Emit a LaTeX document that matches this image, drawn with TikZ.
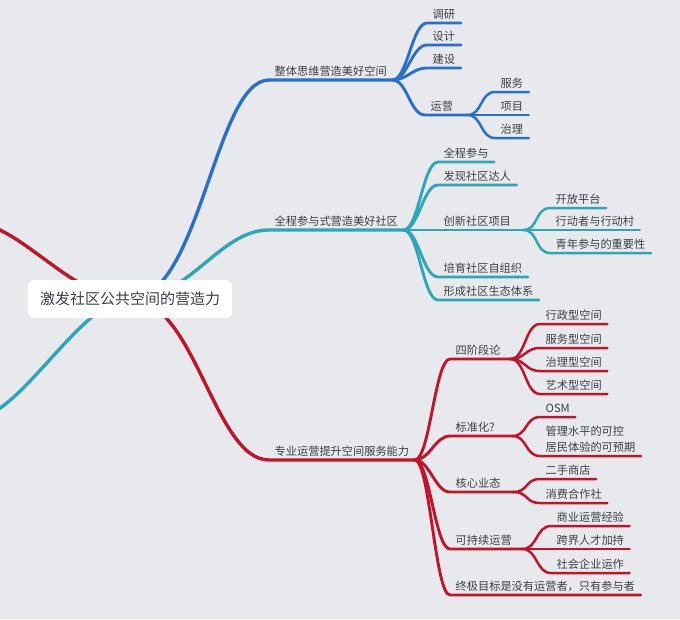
\documentclass[tikz,border=0pt]{standalone}
\usepackage{fontspec}
\setmainfont{Noto Sans CJK SC}
\usetikzlibrary{graphs, backgrounds}

\definecolor{bgcolor}{HTML}{E8E9EC}
\definecolor{bluebranch}{HTML}{2A6FC9}
\definecolor{tealbranch}{HTML}{2FA6B5}
\definecolor{redbranch}{HTML}{C0142B}
\definecolor{textgrey}{HTML}{3A3F46}

\tikzset{
    topic/.style={anchor=south west, inner xsep=5.5pt, inner ysep=2.8pt,
        text height=9pt, text depth=2pt, text=textgrey, align=left,
        font=\fontsize{11.2}{16}\selectfont},
    rootbox/.style={fill=white, rounded corners=6pt, inner sep=0pt,
        minimum width=204pt, minimum height=38pt, text=textgrey,
        font=\fontsize{15}{18}\selectfont},
    branch/.style={line cap=round,
        to path={(\tikztostart.south east) .. controls +(15,0) and +(-15,0)
            .. (\tikztotarget.south west) -- (\tikztotarget.south east)}},
    trunk/.style={line width=3.4pt, line cap=round}
}

\begin{document}
\begin{tikzpicture}[x=1pt, y=-1pt]
    \useasboundingbox (0,0) rectangle (680,619);

    \node[rootbox]              (Root)        at (130,299) {激发社区公共空间的营造力};

    % blue
    \node[topic]                (Whole)       at (269,80)  {整体思维营造美好空间};
    \node[topic]                (Research)    at (427,23)  {调研};
    \node[topic]                (Design)      at (427,45)  {设计};
    \node[topic]                (Build)       at (427,68)  {建设};
    \node[topic, text width=31] (Operate)     at (425,115) {运营};
    \node[topic]                (Service)     at (495,92)  {服务};
    \node[topic]                (Project)     at (495,115) {项目};
    \node[topic]                (Govern)      at (495,138) {治理};

    % teal
    \node[topic]                (Participate) at (269,230) {全程参与式营造美好社区};
    \node[topic]                (Full)        at (438,162) {全程参与};
    \node[topic]                (Talent)      at (438,185) {发现社区达人};
    \node[topic, text width=74] (Innovate)    at (438,230) {创新社区项目};
    \node[topic]                (Open)        at (550,208) {开放平台};
    \node[topic]                (Actor)       at (550,230) {行动者与行动村};
    \node[topic]                (Youth)       at (550,253) {青年参与的重要性};
    \node[topic]                (Selforg)     at (438,277) {培育社区自组织};
    \node[topic]                (Ecosystem)   at (438,300) {形成社区生态体系};

    % red
    \node[topic]                (Professional) at (269,460) {专业运营提升空间服务能力};
    \node[topic, text width=49] (Four)        at (450,359) {四阶段论};
    \node[topic]                (Admintype)   at (540,324) {行政型空间};
    \node[topic]                (Servetype)   at (540,348) {服务型空间};
    \node[topic]                (Governtype)  at (540,371) {治理型空间};
    \node[topic]                (Arttype)     at (540,394) {艺术型空间};
    \node[topic, text width=51] (Standard)    at (450,436) {标准化?};
    \node[topic]                (OSM)         at (540,417) {OSM};
    \node[topic, text height={}] (Control)    at (540,456) {管理水平的可控\\居民体验的可预期};
    \node[topic, text width=52] (Core)        at (450,492) {核心业态};
    \node[topic]                (Secondhand)  at (540,479) {二手商店};
    \node[topic]                (Coop)        at (540,503) {消费合作社};
    \node[topic, text width=61] (Sustain)     at (450,549) {可持续运营};
    \node[topic]                (Business)    at (551,526) {商业运营经验};
    \node[topic]                (Crossover)   at (551,549) {跨界人才加持};
    \node[topic]                (Social)      at (551,573) {社会企业运作};
    \node[topic]                (Goal)        at (450,595) {终极目标是没有运营者，只有参与者};

    \coordinate (Left red)  at (-30,222);
    \coordinate (Left teal) at (-30,420);

    \begin{scope}[on background layer]
        \fill[bgcolor] (0,0) rectangle (680,619);
        \draw[trunk, bluebranch] (Root.center) .. controls +(70,0) and +(-54,0)
            .. (Whole.south west) -- (Whole.south east);
        \draw[trunk, tealbranch] (Root.center) .. controls +(60,0) and +(-50,0)
            .. (Participate.south west) -- (Participate.south east);
        \draw[trunk, redbranch] (Root.center) .. controls +(65,0) and +(-55,0)
            .. (Professional.south west) -- (Professional.south east);
        \begin{scope}
            \clip (0,0) rectangle (680,619);
            \draw[trunk, redbranch]  (Root.center) .. controls +(-60,0) and +(50,0) .. (Left red);
            \draw[trunk, tealbranch] (Root.center) .. controls +(-50,0) and +(50,0) .. (Left teal);
        \end{scope}
    \end{scope}

    \graph[use existing nodes, edges={branch, draw=bluebranch, line width=2.9pt}]{
        Whole -- {Research, Design, Build, Operate};
        Operate --[line width=2.5pt] {Service, Project, Govern};
    };
    \graph[use existing nodes, edges={branch, draw=tealbranch, line width=2.9pt}]{
        Participate -- {Full, Talent, Innovate, Selforg, Ecosystem};
        Innovate --[line width=2.5pt] {Open, Actor, Youth};
    };
    \graph[use existing nodes, edges={branch, draw=redbranch, line width=2.9pt}]{
        Professional -- {Four, Standard, Core, Sustain, Goal};
        Four --[line width=2.5pt] {Admintype, Servetype, Governtype, Arttype};
        Standard --[line width=2.5pt] {OSM, Control};
        Core --[line width=2.5pt] {Secondhand, Coop};
        Sustain --[line width=2.5pt] {Business, Crossover, Social};
    };
\end{tikzpicture}
\end{document}
